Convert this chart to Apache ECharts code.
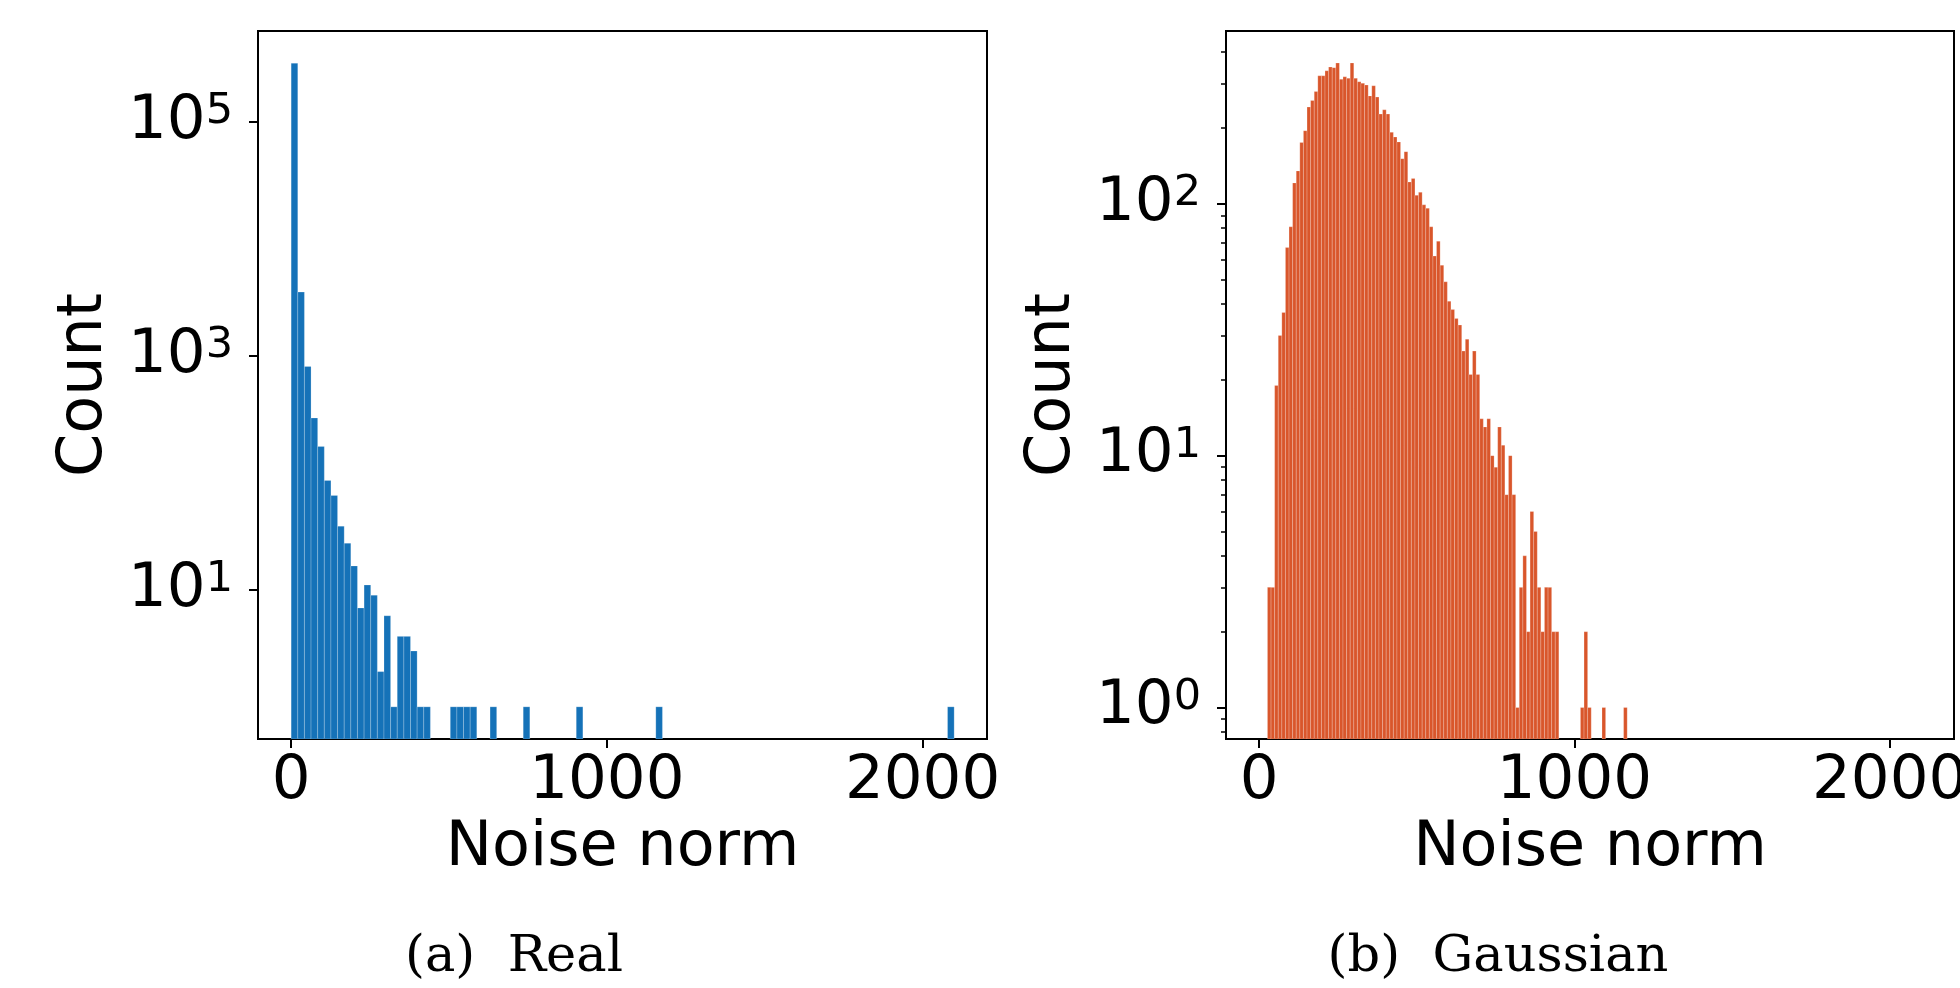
<!DOCTYPE html>
<html>
<head>
<meta charset="utf-8">
<script src="https://cdn.jsdelivr.net/npm/echarts@6.0.0/dist/echarts.min.js"></script>
<style>
  html, body { margin: 0; padding: 0; background: #fff; }
  #main { width: 1960px; height: 988px; }
</style>
</head>
<body>
<div id="main"></div>
<script>
// (a) real noise histogram: 100 equal bins
const realBinStart = 0;
const realBinWidth = 21.0;
const realCounts = [
  316000, 3500, 810, 294, 168, 86, 64, 35, 25, 16,
  7, 11, 9, 2, 6, 1, 4, 4, 3, 1,
  1, 0, 0, 0, 1, 1, 1, 1, 0, 0,
  1, 0, 0, 0, 0, 1, 0, 0, 0, 0,
  0, 0, 0, 1, 0, 0, 0, 0, 0, 0,
  0, 0, 0, 0, 0, 1, 0, 0, 0, 0,
  0, 0, 0, 0, 0, 0, 0, 0, 0, 0,
  0, 0, 0, 0, 0, 0, 0, 0, 0, 0,
  0, 0, 0, 0, 0, 0, 0, 0, 0, 0,
  0, 0, 0, 0, 0, 0, 0, 0, 0, 1
];

// (b) gaussian noise histogram: 100 equal bins
const gaussBinStart = 26.5;
const gaussBinWidth = 11.41;
const gaussCounts = [
  3, 3, 19, 30, 37, 67, 81, 121, 135, 175,
  195, 242, 257, 279, 322, 322, 337, 349, 347, 362,
  312, 319, 315, 362, 315, 305, 301, 296, 268, 294,
  265, 227, 236, 227, 192, 184, 176, 151, 161, 122,
  126, 108, 111, 99, 96, 81, 62, 71, 57, 49,
  41, 38, 35, 33, 26, 29, 21, 26, 21, 14,
  13, 14, 10, 9, 13, 11, 7, 10, 7, 1,
  3, 4, 2, 6, 5, 3, 2, 3, 3, 2,
  2, 0, 0, 0, 0, 0, 0, 1, 2, 1,
  0, 0, 0, 1, 0, 0, 0, 0, 0, 1
];

const xTicks = [0, 1000, 2000];
const realYTicks = [10, 1000, 100000];
const gaussYTicks = [1, 10, 100];
const gaussYMinor = [0.8, 0.9, 2, 3, 4, 5, 6, 7, 8, 9, 20, 30, 40, 50, 60, 70, 80, 90, 200, 300, 400];
const captions = ['(a)  Real', '(b)  Gaussian'];

const FONT = 'DejaVu Sans';
const xMin = -105, xMax = 2204;
const realYMin = 0.531, realYMax = 595700;
const gaussYMin = 0.75, gaussYMax = 485;

const toBins = (start, width, counts) => {
  const out = [];
  counts.forEach((c, i) => {
    if (c > 0) out.push([start + i * width, start + (i + 1) * width, c]);
  });
  return out;
};

const histItem = (color, seam, yFloor) => (params, api) => {
  const top = api.coord([api.value(0), api.value(2)]);
  const bot = api.coord([api.value(1), yFloor]);
  return {
    type: 'rect',
    shape: { x: top[0], y: top[1], width: bot[0] - top[0], height: bot[1] - top[1] },
    style: { fill: color, stroke: seam, lineWidth: 0.6 }
  };
};

const powLabel = (v) => '{b|10}{s|' + Math.round(Math.log10(v)) + '}';
const powRich = {
  b: { fontSize: 61, fontFamily: FONT, color: '#000', lineHeight: 62 },
  s: { fontSize: 43, fontFamily: FONT, color: '#000', lineHeight: 24, verticalAlign: 'top' }
};

const nameStyle = { fontSize: 62, fontFamily: FONT, color: '#000' };
const black = { color: '#000', width: 2 };

const makeX = (gridIndex) => ({
  type: 'value', gridIndex, min: xMin, max: xMax,
  name: 'Noise norm', nameLocation: 'middle', nameGap: 77, nameTextStyle: nameStyle,
  axisLine: { show: true, onZero: false, lineStyle: black },
  axisTick: { show: true, customValues: xTicks, length: 9, lineStyle: black },
  axisLabel: { customValues: xTicks, formatter: (v) => String(v), fontSize: 61, fontFamily: FONT, color: '#000', margin: 13 },
  splitLine: { show: false }
});

const makeY = (gridIndex, min, max, ticks) => ({
  type: 'log', logBase: 10, gridIndex, min, max, position: 'left',
  name: 'Count', nameLocation: 'middle', nameGap: 142, nameTextStyle: nameStyle,
  axisLine: { show: true, onZero: false, lineStyle: black },
  axisTick: { show: true, customValues: ticks, length: 9, lineStyle: black },
  axisLabel: { customValues: ticks, formatter: powLabel, rich: powRich, margin: 25 },
  splitLine: { show: false }
});

const chart = echarts.init(document.getElementById('main'));
chart.setOption({
  backgroundColor: '#fff',
  animation: false,
  grid: [
    { left: 258, top: 31, width: 729, height: 708, show: true, borderColor: '#000', borderWidth: 2, containLabel: false, outerBoundsMode: 'none' },
    { left: 1226, top: 31, width: 728, height: 708, show: true, borderColor: '#000', borderWidth: 2, containLabel: false, outerBoundsMode: 'none' }
  ],
  xAxis: [makeX(0), makeX(1)],
  yAxis: [
    makeY(0, realYMin, realYMax, realYTicks),
    makeY(1, gaussYMin, gaussYMax, gaussYTicks),
    {
      type: 'log', logBase: 10, gridIndex: 1, min: gaussYMin, max: gaussYMax, position: 'left', offset: 0,
      axisLine: { show: false, onZero: false },
      axisTick: { show: true, customValues: gaussYMinor, length: 5, lineStyle: { color: '#000', width: 1.5 } },
      axisLabel: { show: false },
      splitLine: { show: false }
    }
  ],
  series: [
    {
      type: 'custom', xAxisIndex: 0, yAxisIndex: 0, clip: true,
      renderItem: histItem('#1572b8', 'rgba(255,255,255,0.35)', realYMin),
      encode: { x: [0, 1], y: 2 },
      data: toBins(realBinStart, realBinWidth, realCounts)
    },
    {
      type: 'custom', xAxisIndex: 1, yAxisIndex: 1, clip: true,
      renderItem: histItem('#d9562b', 'rgba(255,255,255,0.35)', gaussYMin),
      encode: { x: [0, 1], y: 2 },
      data: toBins(gaussBinStart, gaussBinWidth, gaussCounts)
    }
  ],
  graphic: [
    { type: 'text', x: 514, y: 958, style: { text: captions[0], font: '51px "DejaVu Serif"', fill: '#000', textAlign: 'center', textVerticalAlign: 'middle' } },
    { type: 'text', x: 1498, y: 958, style: { text: captions[1], font: '51px "DejaVu Serif"', fill: '#000', textAlign: 'center', textVerticalAlign: 'middle' } }
  ]
});
</script>
</body>
</html>
